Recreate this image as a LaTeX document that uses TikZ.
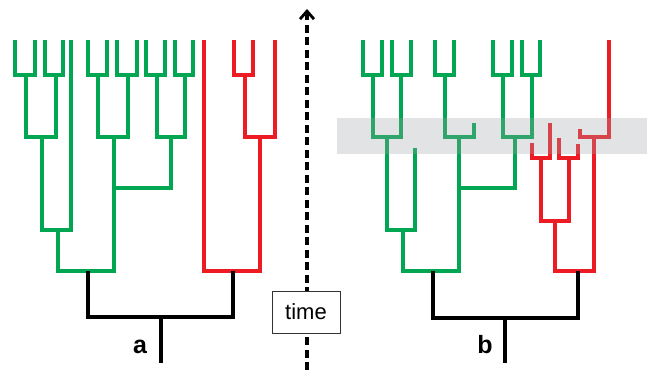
\documentclass[tikz,border=0pt]{standalone}
\usepackage{fontspec}
\newfontfamily\labfont{Liberation Sans}
\usetikzlibrary{arrows.meta}
\definecolor{tgreen}{RGB}{0,166,81}
\definecolor{tred}{RGB}{237,28,36}
\definecolor{bandgray}{RGB}{162,164,168}
\begin{document}
\begin{tikzpicture}[x=1pt,y=-1pt,
  br/.style={line width=3.4pt, line join=miter},
  gbr/.style={br, draw=tgreen},
  rbr/.style={br, draw=tred},
  kbr/.style={br, draw=black},
  timeline/.style={line width=3.2pt, dash pattern=on 8pt off 4.5pt, -{Straight Barb[length=8pt,width=14pt,line width=2.8pt]}},
  timebox/.style={draw=black!80, line width=0.8pt, fill=white, minimum width=68pt, minimum height=42pt, inner sep=0pt, font=\labfont\fontsize{22}{26}\selectfont},
  panellabel/.style={font=\labfont\bfseries\fontsize{25}{28}\selectfont, inner sep=0pt}]
\useasboundingbox (0,0) rectangle (654,370);
\fill[white] (0,0) rectangle (654,370);

% time axis
\coordinate (tbot) at (307,370);
\coordinate (ttop) at (307,9);
\draw[timeline] (tbot) -- (ttop);
\node[timebox] (time) at (306,312) {time};

% ---------- panel a ----------
% green clade
\draw[gbr] (15,40)--(15,75)--(35,75)--(35,40);
\draw[gbr] (45,40)--(45,75)--(63,75)--(63,40);
\draw[gbr] (26,75)--(26,137)--(56,137)--(56,75);
\draw[gbr] (42,137)--(42,230)--(71,230)--(71,40);
\draw[gbr] (58,230)--(58,271)--(114,271)--(114,137);
\draw[gbr] (88,40)--(88,75)--(107,75)--(107,40);
\draw[gbr] (117,40)--(117,75)--(137,75)--(137,40);
\draw[gbr] (98,75)--(98,137)--(128,137)--(128,75);
\draw[gbr] (146,40)--(146,75)--(165,75)--(165,40);
\draw[gbr] (175,40)--(175,75)--(193,75)--(193,40);
\draw[gbr] (157,75)--(157,137)--(185,137)--(185,75);
\draw[gbr] (171,137)--(171,188)--(114,188);
% red clade
\draw[rbr] (234,40)--(234,75)--(253,75)--(253,40);
\draw[rbr] (245,75)--(245,137)--(275,137)--(275,40);
\draw[rbr] (204,40)--(204,271)--(260,271)--(260,137);
% root
\draw[kbr] (88,271)--(88,317)--(233,317)--(233,271);
\draw[kbr] (161,317)--(161,363);
\node[panellabel] (la) at (140,347) {a};

% ---------- panel b ----------
% green clade
\draw[gbr] (363,40)--(363,75)--(382,75)--(382,40);
\draw[gbr] (392,40)--(392,75)--(411,75)--(411,40);
\draw[gbr] (373,75)--(373,137)--(401,137)--(401,75);
\draw[gbr] (387,137)--(387,230)--(415,230)--(415,148);
\draw[gbr] (403,230)--(403,271)--(459,271)--(459,137);
\draw[gbr] (435,40)--(435,75)--(454,75)--(454,40);
\draw[gbr] (445,75)--(445,137)--(474,137)--(474,123);
\draw[gbr] (493,40)--(493,75)--(512,75)--(512,40);
\draw[gbr] (522,40)--(522,75)--(540,75)--(540,40);
\draw[gbr] (503,75)--(503,137)--(532,137)--(532,75);
\draw[gbr] (515,137)--(515,188)--(459,188);
% red clade
\draw[rbr] (609,40)--(609,137)--(580,137)--(580,129);
\draw[rbr] (532,143)--(532,158)--(550,158)--(550,123);
\draw[rbr] (559,138)--(559,158)--(578,158)--(578,144);
\draw[rbr] (541,158)--(541,221)--(569,221)--(569,158);
\draw[rbr] (555,221)--(555,271)--(594,271)--(594,137);
% root
\draw[kbr] (433,271)--(433,318)--(578,318)--(578,271);
\draw[kbr] (505,318)--(505,363);
\node[panellabel] (lb) at (485,345) {b};

% shaded band
\fill[bandgray, opacity=0.3] (337,118) rectangle (647,154);
\end{tikzpicture}
\end{document}
